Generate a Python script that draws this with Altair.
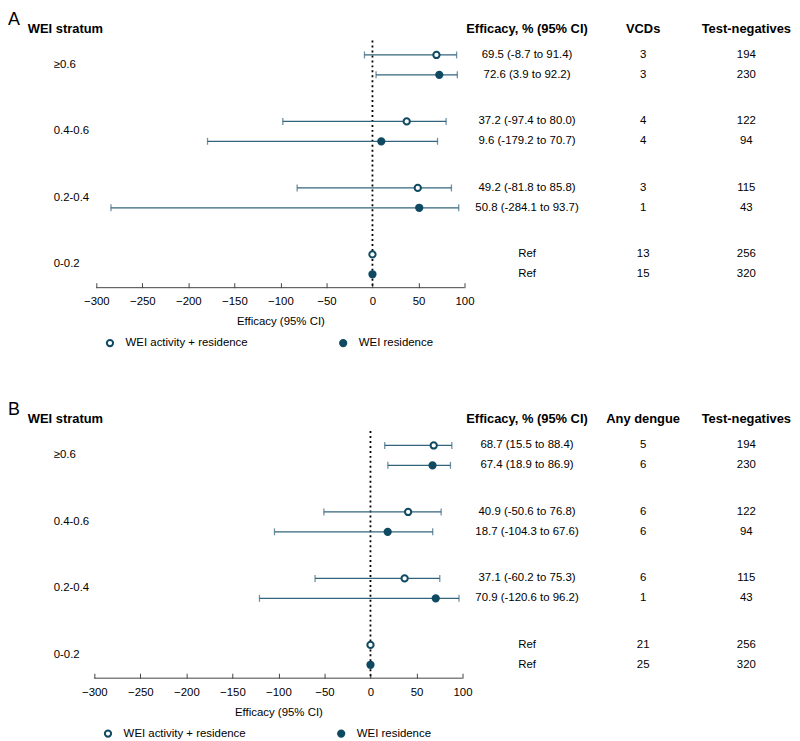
import altair as alt
import pandas as pd

# ---------------- data ----------------
strata = ["≥0.6", "0.4-0.6", "0.2-0.4", "0-0.2"]
series = ["WEI activity + residence", "WEI residence"]
row_stratum = ["≥0.6", "≥0.6", "0.4-0.6", "0.4-0.6", "0.2-0.4", "0.2-0.4", "0-0.2", "0-0.2"]
row_series = series * 4
ticks = [-300, -250, -200, -150, -100, -50, 0, 50, 100]

# Panel A (VCDs)
a_est = [69.5, 72.6, 37.2, 9.6, 49.2, 50.8, 0, 0]
a_lo = [-8.7, 3.9, -97.4, -179.2, -81.8, -284.1, None, None]
a_hi = [91.4, 92.2, 80.0, 70.7, 85.8, 93.7, None, None]
a_label = ["69.5  (-8.7 to 91.4)", "72.6 (3.9 to 92.2)", "37.2 (-97.4 to 80.0)",
           "9.6 (-179.2 to 70.7)", "49.2 (-81.8 to 85.8)", "50.8 (-284.1 to 93.7)",
           "Ref", "Ref"]
a_cases = [3, 3, 4, 4, 3, 1, 13, 15]
a_neg = [194, 230, 122, 94, 115, 43, 256, 320]
a_headers = ["WEI stratum", "Efficacy, % (95% CI)", "VCDs", "Test-negatives"]

# Panel B (any dengue)
b_est = [68.7, 67.4, 40.9, 18.7, 37.1, 70.9, 0, 0]
b_lo = [15.5, 18.9, -50.6, -104.3, -60.2, -120.6, None, None]
b_hi = [88.4, 86.9, 76.8, 67.6, 75.3, 96.2, None, None]
b_label = ["68.7  (15.5 to 88.4)", "67.4 (18.9 to 86.9)", "40.9 (-50.6 to 76.8)",
           "18.7 (-104.3 to 67.6)", "37.1 (-60.2 to 75.3)", "70.9 (-120.6 to 96.2)",
           "Ref", "Ref"]
b_cases = [5, 6, 6, 6, 6, 1, 21, 25]
b_neg = [194, 230, 122, 94, 115, 43, 256, 320]
b_headers = ["WEI stratum", "Efficacy, % (95% CI)", "Any dengue", "Test-negatives"]

# ---------------- style ----------------
W, H = 784, 238
DARK = "#0f4a62"
LINE = "#33647c"
AXC = "#444444"
FONT = "Liberation Sans"
FS = 11.5
OFFS = [8.5, 28.5]   # row offsets inside each stratum band (px)


def panel(letter, est, lo, hi, lab, cases, negs, headers, x0, eff_x):
    df = pd.DataFrame({"stratum": row_stratum, "series": row_series, "est": est,
                       "lo": lo, "hi": hi, "label": lab, "cases": cases, "neg": negs})
    slope = 371 / 400
    d0 = ticks[0] - x0 / slope
    d1 = d0 + W / slope
    xs = alt.Scale(domain=[d0, d1], nice=False, zero=False)
    ax = alt.Axis(values=ticks, domain=False, grid=False, tickSize=5, tickColor=AXC,
                  tickWidth=1, labelFontSize=FS, labelColor="black", labelPadding=8,
                  labelFont=FONT, title="Efficacy (95% CI)", titleFont=FONT,
                  titleFontSize=FS, titleFontWeight="normal", titleColor="black",
                  titleX=x0 + 185.5, titleAlign="center", titlePadding=9)
    ys = alt.Scale(domain=strata, paddingInner=0.4478, paddingOuter=0)
    Y = alt.Y("stratum:N", scale=ys, axis=None)
    leg = alt.Legend(orient="none", legendX=x0 + 8, legendY=293, direction="horizontal",
                     title=None, labelFontSize=FS, labelColor="black", labelFont=FONT,
                     symbolType="circle", symbolSize=40, symbolStrokeWidth=2,
                     symbolStrokeColor=DARK, labelOffset=10, columnPadding=88,
                     labelLimit=300, padding=0)
    fill = alt.Fill("series:N", scale=alt.Scale(domain=series, range=["white", DARK]),
                    legend=leg)

    layers = []
    # panel letter and column headers
    layers.append(alt.Chart(pd.DataFrame({"t": [letter]})).mark_text(
        align="left", baseline="top", fontSize=18, font=FONT, color="black").encode(
        text="t:N", x=alt.value(0), y=alt.value(-36)))
    hx = [20, eff_x, 640, 744]
    for i, t in enumerate(headers):
        layers.append(alt.Chart(pd.DataFrame({"t": [t]})).mark_text(
            align="left" if i == 0 else "center", baseline="middle", fontSize=13,
            fontWeight="bold", font=FONT, color="black").encode(
            text="t:N", x=alt.value(hx[i]), y=alt.value(-18)))
    # stratum labels
    layers.append(alt.Chart(pd.DataFrame({"stratum": strata})).mark_text(
        align="left", baseline="middle", fontSize=FS, font=FONT, color="black").encode(
        text="stratum:N", x=alt.value(46), y=Y))
    # dotted null line
    layers.append(alt.Chart(pd.DataFrame({"v": [0]})).mark_rule(
        strokeDash=[2, 3], color="black", strokeWidth=1.8).encode(
        x=alt.X("v:Q", scale=xs, axis=ax), y=alt.value(-6), y2=alt.value(H + 5)))
    # axis baseline
    layers.append(alt.Chart(pd.DataFrame({"a": [ticks[0]], "b": [ticks[-1]]})).mark_rule(
        color=AXC, strokeWidth=1).encode(
        x=alt.X("a:Q", scale=xs, axis=ax), x2="b:Q", y=alt.value(H + 5)))

    base = alt.Chart(df)
    for s, off in zip(series, OFFS):
        b = base.transform_filter(alt.datum.series == s)
        ci = b.transform_filter("isValid(datum.lo)")
        yo = alt.value(off)
        txt = dict(align="center", baseline="middle", fontSize=FS, font=FONT, color="black")
        layers += [
            ci.mark_rule(color=LINE, strokeWidth=1.3).encode(
                x=alt.X("lo:Q", scale=xs, axis=ax), x2="hi:Q", y=Y, yOffset=yo),
            ci.mark_tick(color=LINE, thickness=1.3, size=7).encode(
                x=alt.X("lo:Q", scale=xs, axis=ax), y=Y, yOffset=yo),
            ci.mark_tick(color=LINE, thickness=1.3, size=7).encode(
                x=alt.X("hi:Q", scale=xs, axis=ax), y=Y, yOffset=yo),
            b.mark_point(filled=True, size=40, stroke=DARK, strokeWidth=2, opacity=1).encode(
                x=alt.X("est:Q", scale=xs, axis=ax), y=Y, yOffset=yo, fill=fill),
            b.mark_text(**txt).encode(text="label:N", x=alt.value(eff_x), y=Y, yOffset=yo),
            b.mark_text(**txt).encode(text="cases:N", x=alt.value(640), y=Y, yOffset=yo),
            b.mark_text(**txt).encode(text="neg:N", x=alt.value(744), y=Y, yOffset=yo),
        ]
    return alt.layer(*layers).properties(width=W, height=H)


pA = panel("A", a_est, a_lo, a_hi, a_label, a_cases, a_neg, a_headers, 89, 523)
pB = panel("B", b_est, b_lo, b_hi, b_label, b_cases, b_neg, b_headers, 87, 523)

chart = alt.vconcat(pA, pB, spacing=51.5).resolve_scale(
    x="independent", y="independent", fill="independent").resolve_legend(
    fill="independent").resolve_axis(x="independent").properties(
    padding={"left": 0, "top": 0, "right": 0, "bottom": 0}).configure(
    font=FONT).configure_view(strokeWidth=0, stroke="transparent")

chart.save("out.html", embed_options={"renderer": "svg", "actions": False})
